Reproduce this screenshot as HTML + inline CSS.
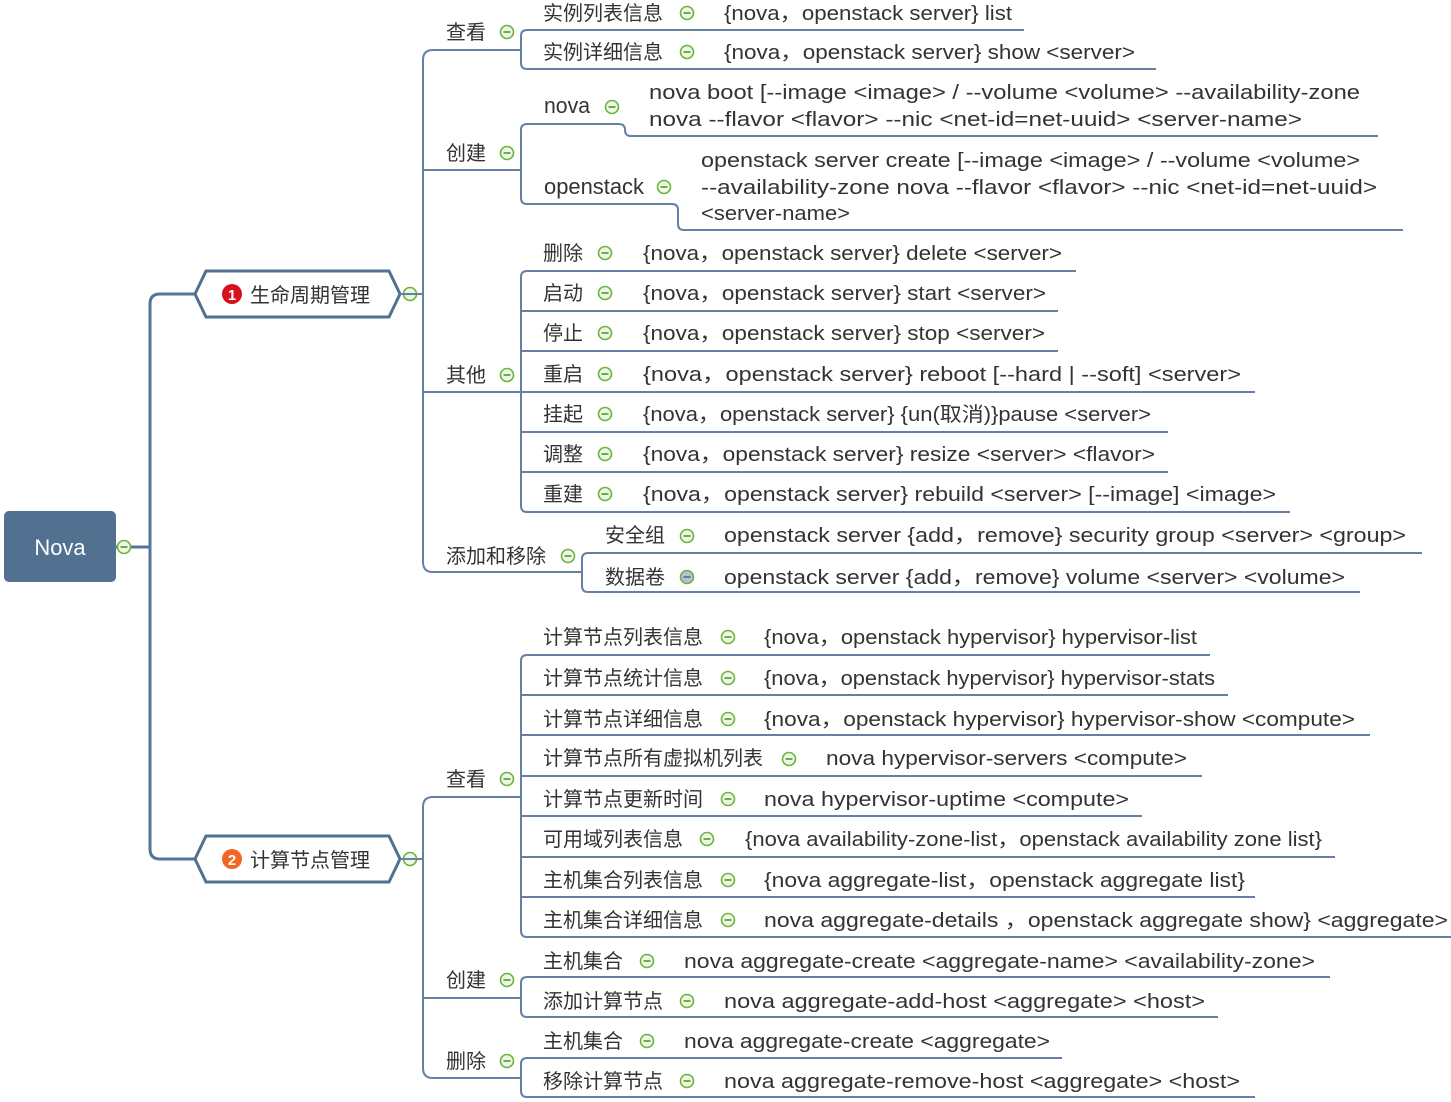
<!DOCTYPE html>
<html><head><meta charset="utf-8"><style>
html,body{margin:0;padding:0;background:#fff;}
svg{display:block;}
text{font-family:"Liberation Sans","Noto Sans CJK SC",sans-serif;fill:#333;font-size:20px;}
.c{font-size:20px;}
.l{fill:none;stroke:#6680a3;stroke-width:2;}
.t{fill:none;stroke:#56739a;stroke-width:3;}
</style></head><body>
<svg width="1451" height="1102" viewBox="0 0 1451 1102" xmlns="http://www.w3.org/2000/svg">
<defs>
<g id="m"><circle r="6.5" fill="#eef7e6" stroke="#6cb33e" stroke-width="1.6"/><line x1="-3.5" y1="0" x2="3.5" y2="0" stroke="#4e9a2a" stroke-width="1.6"/></g>
<g id="mg"><circle r="6.5" fill="#b8bfd6" stroke="#6cb33e" stroke-width="1.6"/><line x1="-3.5" y1="0" x2="3.5" y2="0" stroke="#4e6a9a" stroke-width="1.6"/></g>
</defs>

<rect x="4" y="511" width="112" height="71" rx="5" fill="#52708f"/>
<text x="60" y="555" text-anchor="middle" style="fill:#fff;font-size:22px">Nova</text>
<path class="t" d="M116,547 H150 M195,294 H160 Q150,294 150,304 V849 Q150,859 160,859 H195"/>
<use href="#m" x="124" y="547"/>

<polygon points="195,294 206,271 389,271 400,294 389,317 206,317" fill="#fff" stroke="#52708f" stroke-width="3"/>
<circle cx="232" cy="294" r="10" fill="#d7101e"/><text x="232" y="300" text-anchor="middle" style="fill:#fff;font-size:15px;font-weight:bold">1</text>
<text x="250" y="302" style="font-size:20px">生命周期管理</text>
<use href="#m" x="410" y="294"/>
<polygon points="195,859 206,836 389,836 400,859 389,882 206,882" fill="#fff" stroke="#52708f" stroke-width="3"/>
<circle cx="232" cy="859" r="10" fill="#f26522"/><text x="232" y="865" text-anchor="middle" style="fill:#fff;font-size:15px;font-weight:bold">2</text>
<text x="250" y="867" style="font-size:20px">计算节点管理</text>
<use href="#m" x="410" y="859"/>

<path class="l" d="M400,294 H423 M433,50 Q423,50 423,60 V562 Q423,572 433,572 H582 M433,50 H521 M423,170 H521 M423,392 H521"/>
<path class="l" d="M400,859 H423 M433,797 Q423,797 423,807 V1068 Q423,1078 433,1078 H521 M433,797 H521 M423,998 H521"/>

<text x="446" y="39">查看</text><use href="#m" x="507" y="32"/>
<text x="446" y="160">创建</text><use href="#m" x="507" y="153"/>
<text x="446" y="382">其他</text><use href="#m" x="507" y="375"/>
<text x="446" y="563">添加和移除</text><use href="#m" x="568" y="556"/>
<text x="446" y="786">查看</text><use href="#m" x="507" y="779"/>
<text x="446" y="987">创建</text><use href="#m" x="507" y="980"/>
<text x="446" y="1068">删除</text><use href="#m" x="507" y="1061"/>

<path class="l" d="M527,30 Q521,30 521,36 V63 Q521,69 527,69 M527,30 H1024 M527,69 H1156"/>
<text x="543" y="20">实例列表信息</text><use href="#m" x="687" y="13"/>
<text class="c" x="724" y="20" textLength="288" lengthAdjust="spacingAndGlyphs">{nova，openstack  server}  list</text>
<text x="543" y="59">实例详细信息</text><use href="#m" x="687" y="52"/>
<text class="c" x="724" y="59" textLength="411" lengthAdjust="spacingAndGlyphs">{nova，openstack  server}  show  &lt;server&gt;</text>

<path class="l" d="M527,124 Q521,124 521,130 V198 Q521,204 527,204 M527,124 H619 Q625,124 625,130 V130 Q625,136 631,136 H1378 M527,204 H672 Q678,204 678,210 V224 Q678,230 684,230 H1403"/>
<text x="544" y="113" style="font-size:22px" textLength="46" lengthAdjust="spacingAndGlyphs">nova</text><use href="#m" x="612" y="107"/>
<text class="c" x="649" y="99" textLength="711" lengthAdjust="spacingAndGlyphs">nova  boot  [--image &lt;image&gt; / --volume  &lt;volume&gt;  --availability-zone</text>
<text class="c" x="649" y="126" textLength="653" lengthAdjust="spacingAndGlyphs">nova  --flavor  &lt;flavor&gt;  --nic  &lt;net-id=net-uuid&gt;  &lt;server-name&gt;</text>
<text x="544" y="194" style="font-size:22px" textLength="100" lengthAdjust="spacingAndGlyphs">openstack</text><use href="#m" x="664" y="187"/>
<text class="c" x="701" y="167" textLength="659" lengthAdjust="spacingAndGlyphs">openstack  server  create  [--image &lt;image&gt; / --volume  &lt;volume&gt;</text>
<text class="c" x="701" y="194" textLength="676" lengthAdjust="spacingAndGlyphs">--availability-zone  nova  --flavor  &lt;flavor&gt;  --nic  &lt;net-id=net-uuid&gt;</text>
<text class="c" x="701" y="220" textLength="149" lengthAdjust="spacingAndGlyphs">&lt;server-name&gt;</text>

<path class="l" d="M527,271 Q521,271 521,277 V506 Q521,512 527,512 M527,271 H1076 M521,311 H1058 M521,351 H1058 M521,392 H1255 M521,432 H1168 M521,472 H1168 M527,512 H1290"/>
<text x="543" y="260">删除</text><use href="#m" x="605" y="253"/>
<text class="c" x="643" y="260" textLength="419" lengthAdjust="spacingAndGlyphs">{nova，openstack  server}  delete  &lt;server&gt;</text>
<text x="543" y="300">启动</text><use href="#m" x="605" y="293"/>
<text class="c" x="643" y="300" textLength="403" lengthAdjust="spacingAndGlyphs">{nova，openstack  server}  start  &lt;server&gt;</text>
<text x="543" y="340">停止</text><use href="#m" x="605" y="333"/>
<text class="c" x="643" y="340" textLength="402" lengthAdjust="spacingAndGlyphs">{nova，openstack  server}  stop  &lt;server&gt;</text>
<text x="543" y="381">重启</text><use href="#m" x="605" y="374"/>
<text class="c" x="643" y="381" textLength="598" lengthAdjust="spacingAndGlyphs">{nova，openstack  server}  reboot   [--hard | --soft]  &lt;server&gt;</text>
<text x="543" y="421">挂起</text><use href="#m" x="605" y="414"/>
<text class="c" x="643" y="421" textLength="508" lengthAdjust="spacingAndGlyphs">{nova，openstack  server}  {un(取消)}pause  &lt;server&gt;</text>
<text x="543" y="461">调整</text><use href="#m" x="605" y="454"/>
<text class="c" x="643" y="461" textLength="512" lengthAdjust="spacingAndGlyphs">{nova，openstack  server}  resize  &lt;server&gt;  &lt;flavor&gt;</text>
<text x="543" y="501">重建</text><use href="#m" x="605" y="494"/>
<text class="c" x="643" y="501" textLength="633" lengthAdjust="spacingAndGlyphs">{nova，openstack  server}  rebuild  &lt;server&gt;  [--image]  &lt;image&gt;</text>

<path class="l" d="M588,553 Q582,553 582,559 V586 Q582,592 588,592 M588,553 H1422 M588,592 H1360"/>
<text x="605" y="542">安全组</text><use href="#m" x="687" y="536"/>
<text class="c" x="724" y="542" textLength="682" lengthAdjust="spacingAndGlyphs">openstack  server  {add，remove}  security  group  &lt;server&gt;  &lt;group&gt;</text>
<text x="605" y="584">数据卷</text><use href="#mg" x="687" y="577"/>
<text class="c" x="724" y="584" textLength="621" lengthAdjust="spacingAndGlyphs">openstack  server  {add，remove}  volume  &lt;server&gt;  &lt;volume&gt;</text>

<path class="l" d="M527,655 Q521,655 521,661 V931 Q521,937 527,937 M527,655 H1210 M521,695 H1228 M521,735 H1370 M521,776 H1202 M521,816 H1142 M521,857 H1335 M521,897 H1255 M527,937 H1451"/>
<text x="543" y="644">计算节点列表信息</text><use href="#m" x="728" y="637"/>
<text class="c" x="764" y="644" textLength="433" lengthAdjust="spacingAndGlyphs">{nova，openstack hypervisor}  hypervisor-list</text>
<text x="543" y="685">计算节点统计信息</text><use href="#m" x="728" y="678"/>
<text class="c" x="764" y="685" textLength="451" lengthAdjust="spacingAndGlyphs">{nova，openstack hypervisor}  hypervisor-stats</text>
<text x="543" y="726">计算节点详细信息</text><use href="#m" x="728" y="719"/>
<text class="c" x="764" y="726" textLength="591" lengthAdjust="spacingAndGlyphs">{nova，openstack hypervisor}   hypervisor-show  &lt;compute&gt;</text>
<text x="543" y="765">计算节点所有虚拟机列表</text><use href="#m" x="789" y="759"/>
<text class="c" x="826" y="765" textLength="361" lengthAdjust="spacingAndGlyphs">nova  hypervisor-servers  &lt;compute&gt;</text>
<text x="543" y="806">计算节点更新时间</text><use href="#m" x="728" y="799"/>
<text class="c" x="764" y="806" textLength="365" lengthAdjust="spacingAndGlyphs">nova  hypervisor-uptime  &lt;compute&gt;</text>
<text x="543" y="846">可用域列表信息</text><use href="#m" x="707" y="839"/>
<text class="c" x="745" y="846" textLength="577" lengthAdjust="spacingAndGlyphs">{nova  availability-zone-list，openstack availability zone list}</text>
<text x="543" y="887">主机集合列表信息</text><use href="#m" x="728" y="880"/>
<text class="c" x="764" y="887" textLength="481" lengthAdjust="spacingAndGlyphs">{nova  aggregate-list，openstack  aggregate  list}</text>
<text x="543" y="927">主机集合详细信息</text><use href="#m" x="728" y="920"/>
<text class="c" x="764" y="927" textLength="684" lengthAdjust="spacingAndGlyphs">nova  aggregate-details  ，openstack  aggregate  show}  &lt;aggregate&gt;</text>

<path class="l" d="M527,977 Q521,977 521,983 V1011 Q521,1017 527,1017 M527,977 H1330 M527,1017 H1218"/>
<text x="543" y="968">主机集合</text><use href="#m" x="647" y="961"/>
<text class="c" x="684" y="968" textLength="631" lengthAdjust="spacingAndGlyphs">nova  aggregate-create  &lt;aggregate-name&gt;  &lt;availability-zone&gt;</text>
<text x="543" y="1008">添加计算节点</text><use href="#m" x="687" y="1001"/>
<text class="c" x="724" y="1008" textLength="481" lengthAdjust="spacingAndGlyphs">nova  aggregate-add-host  &lt;aggregate&gt;  &lt;host&gt;</text>

<path class="l" d="M527,1058 Q521,1058 521,1064 V1091 Q521,1097 527,1097 M527,1058 H1062 M527,1097 H1255"/>
<text x="543" y="1048">主机集合</text><use href="#m" x="647" y="1041"/>
<text class="c" x="684" y="1048" textLength="366" lengthAdjust="spacingAndGlyphs">nova  aggregate-create  &lt;aggregate&gt;</text>
<text x="543" y="1088">移除计算节点</text><use href="#m" x="687" y="1081"/>
<text class="c" x="724" y="1088" textLength="516" lengthAdjust="spacingAndGlyphs">nova  aggregate-remove-host  &lt;aggregate&gt;  &lt;host&gt;</text>
</svg>
</body></html>
